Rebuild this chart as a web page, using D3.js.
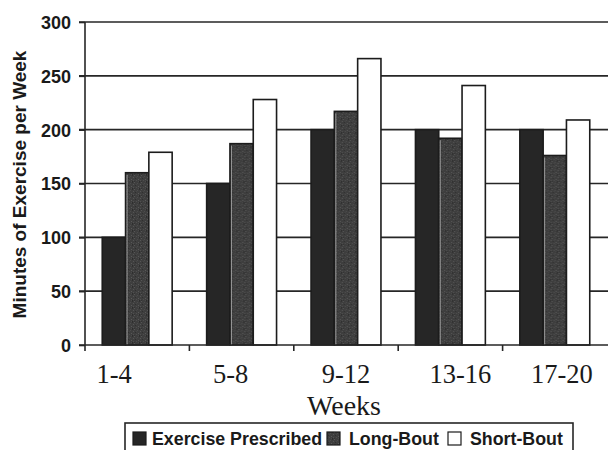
<!DOCTYPE html>
<html>
<head>
<meta charset="utf-8">
<script src="https://cdn.jsdelivr.net/npm/d3@7"></script>
<style>
  html, body { margin: 0; padding: 0; background: #fff; }
  svg { display: block; }
</style>
</head>
<body>
<script>
// Minutes of exercise per week, by 4-week block
const weeks = ["1-4", "5-8", "9-12", "13-16", "17-20"];
const seriesNames = ["Exercise Prescribed", "Long-Bout", "Short-Bout"];
const prescribed = [100, 150, 200, 200, 200];
const longBout   = [160, 187, 217, 192, 176];
const shortBout  = [179, 228, 266, 241, 209];
const yTicks = [0, 50, 100, 150, 200, 250, 300];

const W = 608, H = 450;
const margin = { left: 85, right: 1, top: 22, bottom: 105 };
const plotBottom = H - margin.bottom;

const svg = d3.select("body").append("svg")
  .attr("width", W).attr("height", H);

// Fine speckled grey fill for the long-bout bars
const defs = svg.append("defs");
const pat = defs.append("pattern")
  .attr("id", "speckle").attr("patternUnits", "userSpaceOnUse")
  .attr("width", 7).attr("height", 7);
pat.append("rect").attr("width", 7).attr("height", 7).attr("fill", "#3e3e3e");
const dots = [
  [0,0,"#565656"],[3,1,"#4c4c4c"],[6,2,"#555"],[1,3,"#2f2f2f"],[4,4,"#585858"],
  [2,5,"#4e4e4e"],[5,6,"#2c2c2c"],[6,5,"#505050"],[0,6,"#333"],[5,0,"#303030"],
  [2,2,"#464646"],[4,6,"#4a4a4a"]
];
pat.selectAll("rect.d").data(dots).enter().append("rect")
  .attr("class", "d").attr("x", d => d[0]).attr("y", d => d[1])
  .attr("width", 1).attr("height", 1).attr("fill", d => d[2]);

const x0 = d3.scaleBand().domain(weeks).range([margin.left, W - margin.right]).padding(0);
const x1 = d3.scaleBand().domain(seriesNames).range([0, x0.bandwidth()])
  .paddingInner(0).paddingOuter(0.74);
const y = d3.scaleLinear().domain([0, 300]).range([plotBottom, margin.top]);

const ink = "#262626";

// Horizontal gridlines
svg.append("g").selectAll("line").data(yTicks.filter(t => t > 0)).enter().append("line")
  .attr("x1", margin.left - 6).attr("x2", W)
  .attr("y1", d => y(d)).attr("y2", d => y(d))
  .attr("stroke", ink).attr("stroke-width", 1.6);

// Y axis with tick labels
const yAxis = svg.append("g").attr("transform", `translate(${margin.left},0)`)
  .call(d3.axisLeft(y).tickValues(yTicks).tickSize(6).tickPadding(8));
yAxis.select(".domain").remove();
yAxis.selectAll(".tick line").attr("stroke", ink).attr("stroke-width", 1.6);
yAxis.selectAll(".tick text")
  .attr("font-family", "Liberation Sans, Arial, sans-serif")
  .attr("font-weight", "bold").attr("font-size", 18).attr("fill", "#1a1a1a")
  .attr("dy", "0.36em");
svg.append("line")
  .attr("x1", margin.left).attr("x2", margin.left)
  .attr("y1", margin.top).attr("y2", plotBottom + 6)
  .attr("stroke", ink).attr("stroke-width", 1.6);

// Bars
const rows = weeks.map((w, i) => ({ week: w, values: [prescribed[i], longBout[i], shortBout[i]] }));
const fills = ["#262626", "url(#speckle)", "#ffffff"];
const groups = svg.append("g").selectAll("g").data(rows).enter().append("g")
  .attr("transform", d => `translate(${x0(d.week)},0)`);
groups.selectAll("rect").data(d => d.values.map((v, j) => ({ s: seriesNames[j], v, j })))
  .enter().append("rect")
  .attr("x", d => x1(d.s)).attr("width", x1.bandwidth())
  .attr("y", d => y(d.v)).attr("height", d => y(0) - y(d.v))
  .attr("fill", d => fills[d.j])
  .attr("stroke", "#1c1c1c").attr("stroke-width", 1.6);
// pale seam on the left edge of each long-bout bar
groups.append("line")
  .attr("x1", x1(seriesNames[1]) + 1.5).attr("x2", x1(seriesNames[1]) + 1.5)
  .attr("y1", d => y(d.values[1]) + 2).attr("y2", y(0))
  .attr("stroke", "#9a9a9a").attr("stroke-width", 1);

// X axis line and boundary ticks
svg.append("line")
  .attr("x1", margin.left - 6).attr("x2", W)
  .attr("y1", plotBottom).attr("y2", plotBottom)
  .attr("stroke", ink).attr("stroke-width", 1.6);
svg.append("g").selectAll("line").data(weeks.slice(1)).enter().append("line")
  .attr("x1", d => x0(d)).attr("x2", d => x0(d))
  .attr("y1", plotBottom).attr("y2", plotBottom + 6)
  .attr("stroke", ink).attr("stroke-width", 1.6);

// Category labels (serif)
const labelShift = [-23, -11, 0, 10, 7];
svg.append("g").selectAll("text").data(weeks).enter().append("text")
  .attr("x", (d, i) => x0(d) + x0.bandwidth() / 2 + labelShift[i])
  .attr("y", plotBottom + 38)
  .attr("text-anchor", "middle")
  .attr("font-family", "Liberation Serif, 'Times New Roman', serif")
  .attr("font-size", 26.5).attr("fill", "#1a1a1a")
  .text(d => d);

svg.append("text")
  .attr("x", 344).attr("y", 415)
  .attr("text-anchor", "middle")
  .attr("font-family", "Liberation Serif, 'Times New Roman', serif")
  .attr("font-size", 28).attr("fill", "#1a1a1a")
  .text("Weeks");

// Y axis title
svg.append("text")
  .attr("transform", `translate(26,${(margin.top + plotBottom) / 2 + 1}) rotate(-90)`)
  .attr("text-anchor", "middle")
  .attr("font-family", "Liberation Sans, Arial, sans-serif")
  .attr("font-weight", "bold").attr("font-size", 19).attr("fill", "#1a1a1a")
  .text("Minutes of Exercise per Week");

// Legend
const legend = svg.append("g");
legend.append("rect")
  .attr("x", 125).attr("y", 423).attr("width", 448).attr("height", 40)
  .attr("fill", "none").attr("stroke", ink).attr("stroke-width", 1.6);
const legendX = [133, 327, 448];
const legendItems = legend.selectAll("g").data(seriesNames).enter().append("g")
  .attr("transform", (d, i) => `translate(${legendX[i]},432)`);
legendItems.append("rect")
  .attr("width", 13).attr("height", 13)
  .attr("fill", (d, i) => fills[i]).attr("stroke", "#1c1c1c").attr("stroke-width", 1.2);
legendItems.append("text")
  .attr("x", (d, i) => i === 0 ? 19 : 22).attr("y", 12.5)
  .attr("font-family", "Liberation Sans, Arial, sans-serif")
  .attr("font-weight", "bold").attr("font-size", 17.8).attr("fill", "#1a1a1a")
  .text(d => d);
</script>
</body>
</html>
